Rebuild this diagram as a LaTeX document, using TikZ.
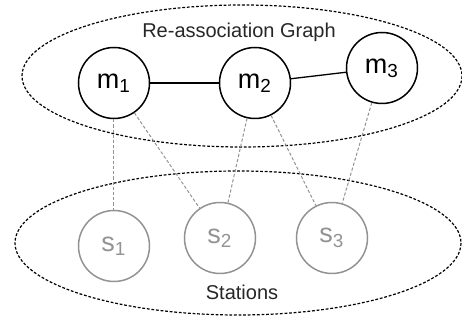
\documentclass[tikz,border=0pt]{standalone}
\usepackage{fontspec}
\setmainfont{Liberation Sans}
\begin{document}
\begin{tikzpicture}[x=0.5pt,y=-0.5pt,
  group/.style={draw=black, line width=0.6pt, dash pattern=on 1.4pt off 0.9pt},
  mnode/.style={circle, draw=black, line width=0.75pt, minimum size=35.5pt, inner sep=0pt, font=\fontsize{13.5}{15}\selectfont},
  snode/.style={circle, draw=gray!85, line width=0.75pt, minimum size=35.5pt, inner sep=0pt, text=gray!85, font=\fontsize{13.5}{15}\selectfont},
  link/.style={draw=black, line width=0.65pt},
  assoc/.style={draw=gray!85, line width=0.5pt, dash pattern=on 1.6pt off 1pt},
  caption/.style={font=\fontsize{10}{12}\selectfont, text=black!85}]
  \useasboundingbox (0,0) rectangle (462,320);
  \clip (0,0) rectangle (462,320);

  % group outlines
  \draw[group] (242,76) ellipse [x radius=220, y radius=71];
  \draw[group] (238,243) ellipse [x radius=223, y radius=72];
  \node[caption] (gtitle) at (239,32) {Re-association Graph};
  \node[caption] (stitle) at (242,292) {Stations};

  % re-association graph
  \node[mnode] (m1) at (114,83) {m\textsubscript{1}};
  \node[mnode] (m2) at (255,83) {m\textsubscript{2}};
  \node[mnode] (m3) at (382,68) {m\textsubscript{3}};

  % stations
  \node[snode] (s1) at (114,246) {s\textsubscript{1}};
  \node[snode] (s2) at (220,238) {s\textsubscript{2}};
  \node[snode] (s3) at (332,238) {s\textsubscript{3}};

  \draw[link] (m1) -- (m2);
  \draw[link] (m2) -- (m3);

  \draw[assoc] (m1) -- (s1);
  \draw[assoc] (m1) -- (s2);
  \draw[assoc] (m2) -- (s2);
  \draw[assoc] (m2) -- (s3);
  \draw[assoc] (m3) -- (s3);
\end{tikzpicture}
\end{document}
